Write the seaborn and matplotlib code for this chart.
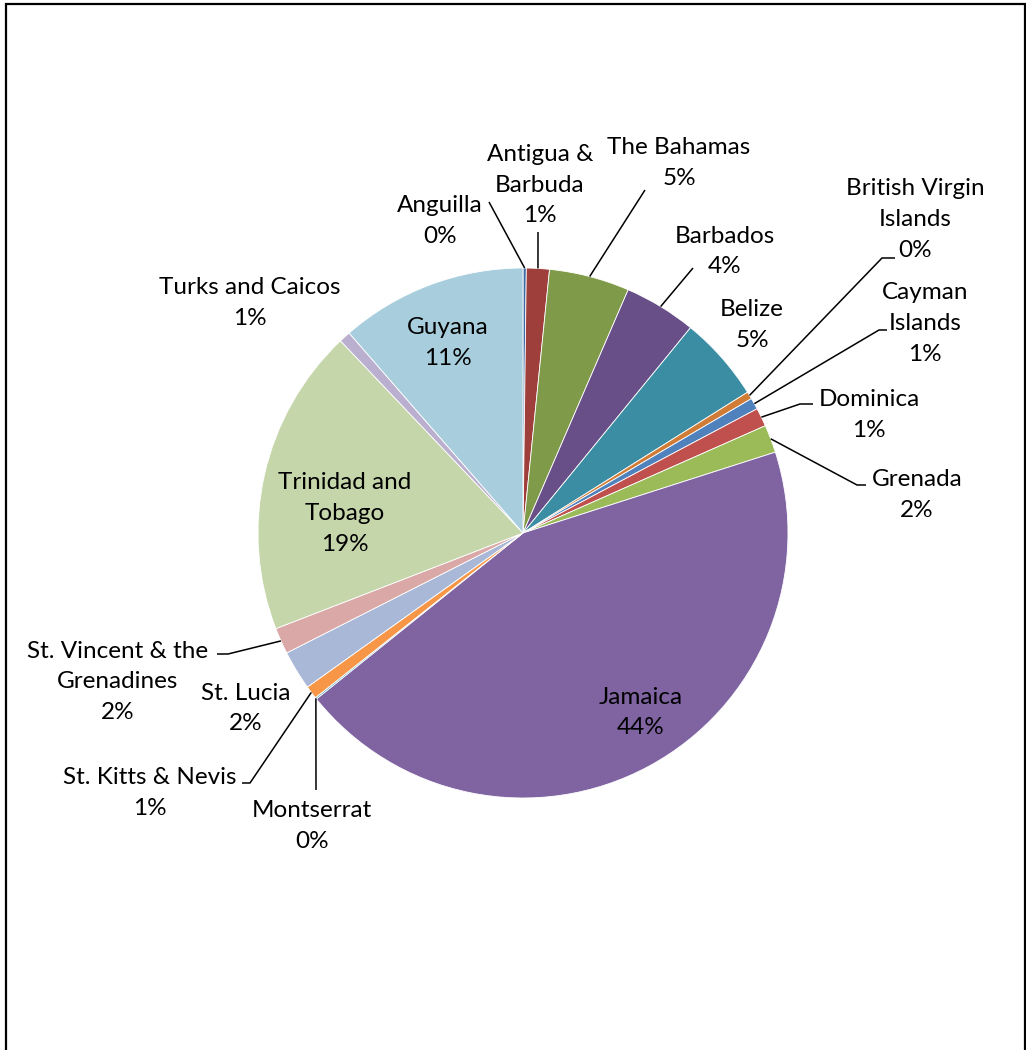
import matplotlib
matplotlib.use("Agg")
import matplotlib.pyplot as plt
from matplotlib.patches import Rectangle
import seaborn as sns
import numpy as np

# Share of each territory (percent), clockwise from 12 o'clock
countries = [
    "Anguilla", "Antigua &\nBarbuda", "The Bahamas", "Barbados", "Belize",
    "British Virgin\nIslands", "Cayman\nIslands", "Dominica", "Grenada",
    "Jamaica", "Montserrat", "St. Kitts & Nevis", "St. Lucia",
    "St. Vincent & the\nGrenadines", "Trinidad and\nTobago", "Turks and Caicos",
    "Guyana",
]
shares = [0.2, 1.4, 4.9, 4.4, 5.2, 0.45, 0.7, 1.13, 1.7, 44.2, 0.1, 0.8, 2.4,
          1.6, 18.8, 0.7, 11.4]
colors = [
    "#3C6AA5", "#9E3F3C", "#7F9A48", "#684F88", "#3A8DA2", "#D07C36",
    "#4F81BD", "#C0504D", "#9BBB59", "#8064A2", "#4BACC6", "#F79646",
    "#AAB8D7", "#D9A8A7", "#C6D6AB", "#BAAFCF", "#A8CEDE",
]

sns.set_theme(style="white")
plt.rcParams["font.family"] = ["Lato", "DejaVu Sans"]

W, H = 1026, 1050
fig = plt.figure(figsize=(W / 100, H / 100), dpi=100)
ax = fig.add_axes([0, 0, 1, 1])
ax.set_xlim(0, W)
ax.set_ylim(0, H)
ax.set_aspect("equal")
ax.axis("off")


def P(x, y):
    """Pixel position (from top-left) to data coordinates."""
    return x, H - y


cx, cy = P(523, 533)
R = 265
wedges, _ = ax.pie(
    shares, colors=colors, startangle=90, counterclock=False,
    center=(cx, cy), radius=R,
    wedgeprops=dict(linewidth=0.6, edgecolor="white"),
)
ax.set_xlim(0, W)
ax.set_ylim(0, H)

# Label block centres (pixels) and optional leader paths ending on the wedge
label_pos = [
    (440, 221), (540, 185), (679, 163), (725, 251.5), (752, 325),
    (915, 219.5), (925, 323.5), (869, 415), (917, 495),
    (641, 712.5), (312, 826), (150, 793), (246, 708.5),
    (118, 682), (345, 513.5), (250, 303), (448, 343),
]
leaders = {
    0: [(489, 202)],
    1: [(538, 232)],
    2: [(645, 190)],
    3: [(693, 268)],
    5: [(895, 258), (882, 258)],
    6: [(887, 330), (879, 330)],
    7: [(813, 404), (800, 404)],
    8: [(866, 485), (857, 485)],
    10: [(316, 790)],
    11: [(242, 783), (250, 783)],
    13: [(217, 654), (228, 654)],
}

for i, (name, val) in enumerate(zip(countries, shares)):
    x, y = label_pos[i]
    tx, ty = P(x, y)
    ax.text(tx, ty, f"{name}\n{val:.0f}%", ha="center", va="center",
            multialignment="center", fontsize=17.5, color="black",
            linespacing=1.56)
    if i in leaders:
        w = wedges[i]
        mid = np.deg2rad((w.theta1 + w.theta2) / 2)
        ex, ey = cx + R * np.cos(mid), cy + R * np.sin(mid)
        pts = [P(*p) for p in leaders[i]] + [(ex, ey)]
        xs, ys = zip(*pts)
        ax.plot(xs, ys, color="black", lw=1.1, solid_capstyle="butt")

# Outer chart frame
fx0, fy0 = P(6, 1060)
fx1, fy1 = P(1025, 4)
ax.add_patch(Rectangle((fx0, fy0), fx1 - fx0, fy1 - fy0, fill=False,
                       edgecolor="black", lw=1.6, clip_on=False))

fig.savefig("out.png", dpi=100, facecolor="white")
